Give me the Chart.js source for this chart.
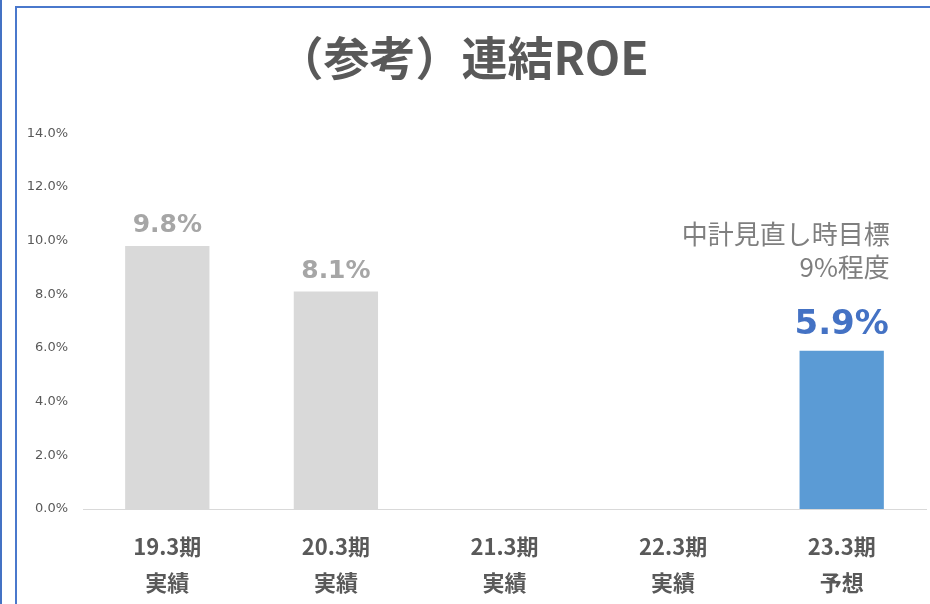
<!DOCTYPE html>
<html>
<head>
<meta charset="utf-8">
<script src="https://cdn.jsdelivr.net/npm/chart.js@4"></script>
<style>
  html, body { margin: 0; padding: 0; background: #fff; }
  #wrap { position: relative; width: 930px; height: 604px; overflow: hidden; }
  #edge { position: absolute; left: 0; top: 0; width: 2px; height: 604px; background: #4472c4; }
  #frame { position: absolute; left: 15px; top: 6px; width: 940px; height: 640px; border-left: 2px solid #4a78cc; border-top: 2px solid #4a78cc; }
  canvas { position: absolute; left: 0; top: 0; }
</style>
</head>
<body>
<div id="wrap">
  <div id="edge"></div>
  <div id="frame"></div>
  <canvas id="c" width="930" height="604"></canvas>
</div>
<script>
// --- DATA ---
const periods = ['19.3期', '20.3期', '21.3期', '22.3期', '23.3期'];
const kinds = ['実績', '実績', '実績', '実績', '予想'];
const roe = [9.8, 8.1, null, null, 5.9];
const yTicks = [0, 2, 4, 6, 8, 10, 12, 14];
const noteLines = ['中計見直し時目標', '9%程度'];
const chartTitle = '（参考）連結ROE';

// --- STYLE ---
const GRAY_BAR = '#d9d9d9', BLUE_BAR = '#5b9bd5';
const GRAY_LBL = '#a6a6a6', BLUE_LBL = '#4472c4';
const TEXT = '#595959';
const isForecast = (i) => kinds[i] === '予想';

// value labels above bars + the target note next to the forecast bar
const barLabels = {
    id: 'barLabels',
    afterDatasetsDraw(chart) {
        const ctx = chart.ctx;
        const meta = chart.getDatasetMeta(0);
        ctx.save();
        ctx.textAlign = 'center';
        ctx.textBaseline = 'alphabetic';
        meta.data.forEach((bar, i) => {
            if (roe[i] == null) return;
            const fc = isForecast(i);
            ctx.font = fc ? 'bold 34px "DejaVu Sans"' : 'bold 25px "DejaVu Sans"';
            ctx.fillStyle = fc ? BLUE_LBL : GRAY_LBL;
            ctx.fillText(roe[i].toFixed(1) + '%', bar.x, bar.y - (fc ? 17 : 14));
            if (fc) {
                ctx.font = '26px "Noto Sans CJK JP"';
                ctx.fillStyle = '#7f7f7f';
                ctx.textAlign = 'right';
                const rx = bar.x + bar.width / 2 + 6;
                ctx.fillText(noteLines[0], rx, bar.y - 107);
                ctx.fillText(noteLines[1], rx, bar.y - 74);
                ctx.textAlign = 'center';
            }
        });
        ctx.restore();
    }
};

new Chart(document.getElementById('c'), {
    type: 'bar',
    data: {
        labels: periods.map((p, i) => [p, kinds[i]]),
        datasets: [{
            data: roe,
            backgroundColor: roe.map((v, i) => isForecast(i) ? BLUE_BAR : GRAY_BAR),
            categoryPercentage: 1.0,
            barPercentage: 0.5
        }]
    },
    options: {
        responsive: false,
        animation: false,
        layout: { padding: { left: 0, right: 4, top: 0, bottom: 0 } },
        plugins: {
            legend: { display: false },
            tooltip: { enabled: false },
            title: {
                display: true,
                text: chartTitle,
                color: TEXT,
                font: { family: '"Noto Sans CJK JP"', size: 46, weight: 'bold' },
                padding: { top: 30, bottom: 48 }
            }
        },
        scales: {
            x: {
                afterFit(scale) { scale.height = 95; },
                grid: { display: false, drawTicks: false },
                border: { display: true, color: '#d9d9d9', width: 1 },
                ticks: {
                    color: TEXT,
                    padding: 20,
                    font: { family: '"Noto Sans CJK JP"', size: 22, weight: 'bold', lineHeight: 1.62 }
                }
            },
            y: {
                min: 0, max: 14,
                afterFit(scale) { scale.width = 83; },
                afterBuildTicks(scale) { scale.ticks = yTicks.map(v => ({ value: v })); },
                grid: { display: false, drawTicks: false },
                border: { display: false },
                ticks: {
                    color: TEXT,
                    padding: 15,
                    font: { family: '"DejaVu Sans"', size: 13 },
                    callback: (v) => v.toFixed(1) + '%'
                }
            }
        }
    },
    plugins: [barLabels]
});
</script>
</body>
</html>
